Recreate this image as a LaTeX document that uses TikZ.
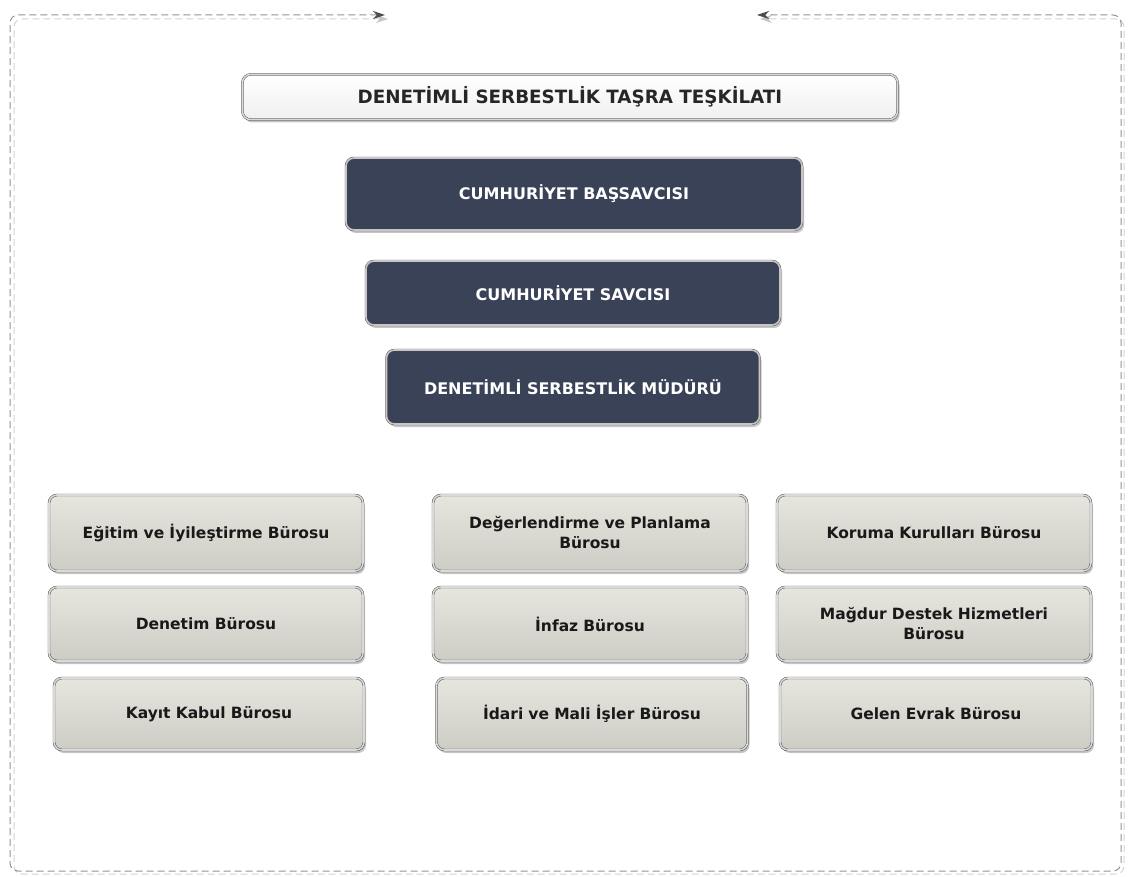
\documentclass[tikz,border=0pt]{standalone}
\usepackage{fontspec}
\setmainfont{DejaVu Sans}
\usetikzlibrary{shadows,arrows.meta}
\definecolor{navy}{HTML}{3A4258}
\definecolor{boxlight}{HTML}{E6E5DE}
\definecolor{boxdark}{HTML}{CDCCC5}
\definecolor{rim}{HTML}{3C3C3C}
\tikzset{
  frameline/.style={dash pattern=on 7pt off 4pt, gray!85, line width=1pt, rounded corners=8pt,
    >={Stealth[length=12pt, width=8pt, color=gray!60!black]}},
  shadowline/.style={dash pattern=on 7pt off 4pt, gray!35, line width=1pt, rounded corners=8pt,
    >={Stealth[length=12pt, width=8pt, color=gray!45]}},
  basebox/.style={rectangle, rounded corners=8pt, draw=rim, double=gray!30,
    double distance=1.6pt, align=center, font=\bfseries,
    drop shadow={shadow xshift=2pt, shadow yshift=-3pt, fill=gray!75, opacity=.6}},
  titlebox/.style={basebox, top color=white, bottom color=gray!12,
    minimum width=655pt, minimum height=45pt, font=\fontsize{18.3}{21}\selectfont\bfseries, text=black!85},
  chiefbox/.style={basebox, fill=navy, draw=gray!60!black, double=gray!45,
    text=white, font=\fontsize{16}{19}\selectfont\bfseries},
  officebox/.style={basebox, top color=boxlight, bottom color=boxdark,
    minimum width=314pt, text width=300pt, text=black!90,
    font=\fontsize{15.5}{20}\selectfont\bfseries},
}
\begin{document}
\begin{tikzpicture}[x=1pt, y=-1pt]
\useasboundingbox (0,0) rectangle (1130,877);

% outer frame
\draw[shadowline, <->] (388,19) -| (14,874) -| (1124,19) -- (760,19);
\draw[frameline, <->] (385,15) -| (10,871) -| (1121,15) -- (757,15);

% head of the organisation
\node[titlebox] (title) at (570,97) {DENETİMLİ SERBESTLİK TAŞRA TEŞKİLATI};
\node[chiefbox, minimum width=456pt, minimum height=72pt] (bassavci) at (574,194) {CUMHURİYET BAŞSAVCISI};
\node[chiefbox, minimum width=414pt, minimum height=64pt] (savci) at (573,293) {CUMHURİYET SAVCISI};
\node[chiefbox, minimum width=373pt, minimum height=74pt] (mudur) at (573,387) {DENETİMLİ SERBESTLİK MÜDÜRÜ};

% offices
\node[officebox, minimum height=76pt] (egitim) at (206,533) {Eğitim ve İyileştirme Bürosu};
\node[officebox, minimum height=74pt] (denetim) at (206,624) {Denetim Bürosu};
\node[officebox, minimum height=72pt, minimum width=310pt] (kayit) at (209,714) {Kayıt Kabul Bürosu};

\node[officebox, minimum height=76pt] (degerlendirme) at (590,533) {Değerlendirme ve Planlama\\Bürosu};
\node[officebox, minimum height=74pt] (infaz) at (590,624) {İnfaz Bürosu};
\node[officebox, minimum height=72pt, minimum width=311pt] (idari) at (592,714) {İdari ve Mali İşler Bürosu};

\node[officebox, minimum height=76pt] (koruma) at (934,533) {Koruma Kurulları Bürosu};
\node[officebox, minimum height=74pt] (magdur) at (934,624) {Mağdur Destek Hizmetleri\\Bürosu};
\node[officebox, minimum height=72pt, minimum width=312pt] (evrak) at (936,714) {Gelen Evrak Bürosu};
\end{tikzpicture}
\end{document}
